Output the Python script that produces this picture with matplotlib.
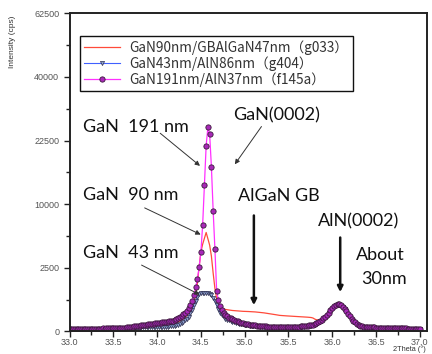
import numpy as np
import matplotlib
matplotlib.use("Agg")
import matplotlib.pyplot as plt
from matplotlib.ticker import FixedLocator, FixedFormatter

# 2Theta sampling (deg), step 0.02
two_theta = np.round(np.linspace(33.0, 37.0, 201), 2)

# GaN90nm/GBAlGaN47nm (g033), cps
int_g033 = [
    2, 2, 2, 2, 2, 2, 3, 3, 3, 3,
    3, 3, 3, 3, 3, 3, 4, 4, 4, 4,
    4, 4, 4, 5, 5, 5, 5, 5, 5, 6,
    6, 6, 7, 7, 7, 8, 8, 9, 9, 10,
    10, 11, 12, 12, 13, 14, 15, 16, 17, 18,
    19, 20, 22, 24, 26, 28, 30, 33, 36, 40,
    45, 50, 57, 68, 82, 100, 125, 160, 210, 280,
    380, 560, 800, 1440, 2600, 3900, 4700, 5350, 6050, 5300,
    4600, 3500, 2100, 1150, 650, 450, 370, 330, 310, 300,
    292, 285, 278, 272, 268, 264, 260, 257, 254, 251,
    250, 248, 246, 244, 242, 240, 236, 232, 228, 224,
    220, 214, 208, 202, 196, 190, 184, 178, 172, 166,
    160, 157, 154, 152, 150, 148, 146, 144, 142, 140,
    138, 136, 134, 132, 130, 128, 126, 123, 120, 112,
    95, 85, 78, 75, 82, 105, 130, 165, 215, 280,
    345, 400, 438, 455, 452, 425, 375, 310, 245, 185,
    135, 96, 67, 48, 35, 26, 20, 16, 14, 12,
    11, 10, 10, 9, 9, 8, 8, 8, 7, 7,
    7, 7, 6, 6, 6, 6, 5, 5, 5, 5,
    5, 5, 5, 4, 4, 4, 4, 4, 4, 4,
    4,
]

# GaN43nm/AlN86nm (g404), cps
int_g404 = [
    2, 2, 3, 2, 3, 3, 3, 3, 3, 3,
    3, 3, 4, 3, 4, 4, 4, 4, 4, 4,
    4, 5, 5, 5, 5, 5, 5, 6, 6, 6,
    6, 6, 7, 7, 7, 8, 8, 8, 9, 9,
    9, 10, 10, 10, 11, 11, 11, 12, 12, 12,
    12, 13, 13, 13, 14, 14, 15, 16, 17, 18,
    20, 24, 30, 37, 46, 60, 78, 100, 136, 200,
    290, 420, 560, 720, 850, 900, 920, 935, 930, 900,
    870, 820, 700, 560, 420, 300, 210, 160, 125, 100,
    85, 75, 65, 58, 52, 47, 42, 38, 34, 31,
    28, 26, 24, 22, 20, 19, 18, 17, 16, 15,
    15, 14, 13, 13, 12, 12, 12, 11, 11, 11,
    11, 11, 10, 10, 10, 10, 11, 11, 11, 12,
    12, 13, 13, 14, 15, 16, 18, 20, 22, 25,
    29, 35, 44, 56, 72, 92, 118, 150, 200, 260,
    325, 380, 420, 440, 440, 415, 365, 300, 235, 175,
    125, 88, 60, 42, 30, 22, 17, 14, 12, 11,
    10, 9, 9, 8, 8, 7, 7, 7, 6, 6,
    6, 6, 5, 5, 5, 5, 5, 4, 4, 4,
    4, 4, 4, 4, 4, 3, 3, 3, 3, 3,
    3,
]

# GaN191nm/AlN37nm (f145a), cps
int_f145a = [
    3, 3, 3, 3, 4, 3, 4, 4, 4, 4,
    4, 4, 5, 4, 5, 5, 5, 5, 5, 6,
    5, 6, 6, 6, 6, 7, 6, 7, 7, 8,
    8, 9, 9, 10, 11, 12, 14, 16, 18, 20,
    22, 23, 25, 27, 29, 31, 33, 35, 38, 40,
    42, 45, 48, 50, 53, 56, 60, 64, 68, 73,
    80, 90, 105, 125, 150, 180, 215, 260, 330, 420,
    560, 800, 1200, 1700, 2550, 3900, 7000, 13300, 21300, 25800,
    24000, 16700, 9000, 4200, 1000, 615, 400, 287, 220, 169,
    140, 120, 105, 90, 78, 70, 62, 55, 48, 42,
    38, 35, 32, 29, 27, 25, 23, 21, 20, 19,
    18, 17, 16, 15, 15, 14, 14, 13, 13, 13,
    13, 12, 12, 12, 12, 12, 12, 13, 13, 14,
    14, 15, 16, 17, 18, 20, 22, 24, 27, 30,
    35, 42, 52, 65, 82, 105, 130, 168, 220, 285,
    350, 405, 442, 460, 458, 430, 380, 315, 250, 190,
    140, 100, 70, 50, 36, 27, 21, 17, 15, 13,
    12, 11, 11, 10, 10, 9, 9, 9, 8, 8,
    8, 8, 7, 7, 7, 7, 6, 6, 6, 6,
    6, 6, 6, 5, 5, 5, 5, 5, 5, 5,
    5,
]

series_labels = ["GaN90nm/GBAlGaN47nm（g033）",
                 "GaN43nm/AlN86nm（g404）",
                 "GaN191nm/AlN37nm（f145a）"]

y_ticks = [0, 2500, 10000, 22500, 40000, 62500]
y_minor = [625, 5625, 15625, 30625, 50625]
x_ticks = [33.0, 33.5, 34.0, 34.5, 35.0, 35.5, 36.0, 36.5, 37.0]
x_tick_labels = ["33.0", "33.5", "34.0", "34.5", "35.0", "35.5", "36.0", "36.5", "37.0"]

fig = plt.figure(figsize=(4.32, 3.54), dpi=100)
ax = fig.add_axes([0.161, 0.0636, 0.827, 0.899])

ax.plot(two_theta, int_g033, color="#ff4a3a", lw=0.9, label=series_labels[0])
ax.plot(two_theta, int_g404, color="#4060ff", lw=0.8, marker="v", ms=3,
        mfc="#8ca0d0", mec="#303050", mew=0.5, label=series_labels[1])
ax.plot(two_theta, int_f145a, color="#ff30ff", lw=0.9, marker="o", ms=3.8,
        mfc="#a828b8", mec="#3a1a3a", mew=0.6, label=series_labels[2])

ax.set_yscale("function", functions=(lambda v: np.sqrt(np.clip(v, 0, None)),
                                     lambda v: np.square(v)))
ax.set_ylim(0, 62500)
ax.set_xlim(33.0, 37.08)
ax.yaxis.set_major_locator(FixedLocator(y_ticks))
ax.yaxis.set_major_formatter(FixedFormatter([str(t) for t in y_ticks]))
ax.yaxis.set_minor_locator(FixedLocator(y_minor))
ax.yaxis.set_minor_formatter(FixedFormatter([""] * len(y_minor)))
ax.xaxis.set_major_locator(FixedLocator(x_ticks))
ax.xaxis.set_major_formatter(FixedFormatter(x_tick_labels))
ax.xaxis.set_minor_locator(FixedLocator([33.25, 33.75, 34.25, 34.75, 35.25, 35.75, 36.25, 36.75]))

ax.tick_params(which="both", direction="out", color="#222222", labelcolor="#555555",
               labelsize=6.5, width=1)
ax.tick_params(which="major", length=4)
ax.tick_params(which="minor", length=3)
ax.tick_params(axis="x", pad=0.5)
for lab in ax.get_xticklabels() + ax.get_yticklabels():
    lab.set_family("Liberation Sans")
for side in ["left", "bottom", "top", "right"]:
    ax.spines[side].set_linewidth(1.4)
    ax.spines[side].set_color("#222222")

fig.text(0.028, 1 - 42 / 354, "Intensity (cps)", rotation=90, va="center", ha="center",
         fontsize=6, color="#333333", family="Liberation Sans")
fig.text(393 / 432, 1 - 345.5 / 354, "2Theta (°)", va="top", ha="left",
         fontsize=5.3, color="#333333", family="Liberation Sans")

leg = ax.legend(loc="upper left", bbox_to_anchor=(0.0294, 0.9287), borderaxespad=0,
                fancybox=False, framealpha=1, edgecolor="#111111", numpoints=1,
                handlelength=2.6, handletextpad=0.75, borderpad=0.3, labelspacing=0.1,
                prop={"family": ["Noto Sans CJK JP", "DejaVu Sans"], "size": 9.8})
leg.get_frame().set_linewidth(1.0)
for t in leg.get_texts():
    t.set_color("#333333")

txt = dict(fontsize=13, family="Lato", color="#111111", va="baseline", ha="left")
ax.text(33.154, 24650, "GaN  191 nm", **txt)
ax.text(34.869, 27500, "GaN(0002)", **txt)
ax.text(33.154, 10720, "GaN  90 nm", **txt)
ax.text(33.154, 3320, "GaN  43 nm", **txt)
ax.text(34.926, 10450, "AlGaN GB", **txt)
ax.text(35.84, 6810, "AlN(0002)", **txt)
ax.text(36.274, 3170, "About", **txt)
ax.text(36.331, 1400, "30nm", **txt)

thin = dict(arrowstyle="-|>", color="#333333", lw=0.7, mutation_scale=7)
thick = dict(arrowstyle="-|>", color="#111111", lw=1.8, mutation_scale=8)
ax.annotate("", xy=(34.514, 16570), xytext=(34.011, 24680), arrowprops=thin)
ax.annotate("", xy=(34.869, 16780), xytext=(35.21, 26500), arrowprops=thin)
ax.annotate("", xy=(34.526, 5655), xytext=(33.829, 9610), arrowprops=thin)
ax.annotate("", xy=(34.514, 781), xytext=(33.794, 2825), arrowprops=thin)
ax.annotate("", xy=(35.105, 342), xytext=(35.105, 8705), arrowprops=thick)
ax.annotate("", xy=(36.091, 826), xytext=(36.091, 5774), arrowprops=thick)

fig.savefig("out.png", dpi=100)
